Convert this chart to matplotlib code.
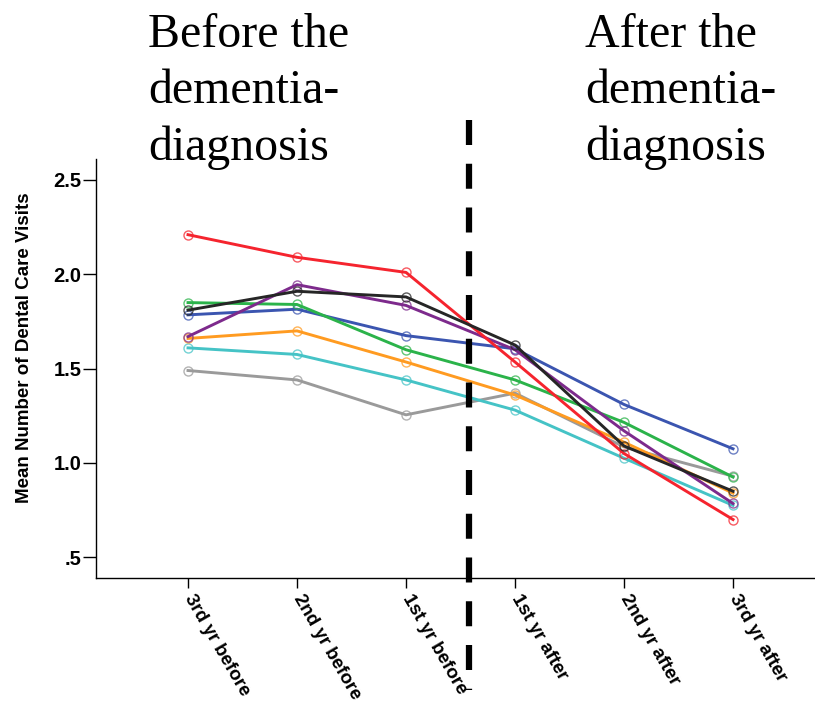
import numpy as np
import matplotlib
matplotlib.use('Agg')
import matplotlib.pyplot as plt
from matplotlib.colors import to_rgba

# periods around the dementia diagnosis
periods = ['3rd yr before', '2nd yr before', '1st yr before',
           '1st yr after', '2nd yr after', '3rd yr after']

# mean number of dental care visits, one list per group
gray = [1.49, 1.44, 1.255, 1.37, 1.085, 0.93]
cyan = [1.61, 1.575, 1.44, 1.28, 1.025, 0.775]
orange = [1.66, 1.70, 1.535, 1.36, 1.11, 0.84]
blue = [1.785, 1.815, 1.675, 1.605, 1.31, 1.075]
green = [1.85, 1.84, 1.60, 1.44, 1.215, 0.925]
purple = [1.67, 1.945, 1.835, 1.60, 1.17, 0.785]
red = [2.21, 2.09, 2.01, 1.535, 1.05, 0.70]
black = [1.81, 1.91, 1.88, 1.625, 1.09, 0.85]

yticks = [0.5, 1.0, 1.5, 2.0, 2.5]
yticklabels = ['.5', '1.0', '1.5', '2.0', '2.5']
diagnosis_x = 2.574  # dashed divider between before / after

series = [
    (gray, '#9a9a9a'),
    (cyan, '#45c3c6'),
    (orange, '#ff9b21'),
    (blue, '#3b55b0'),
    (green, '#2bb34a'),
    (purple, '#7d2a8c'),
    (red, '#f5242e'),
    (black, '#262626'),
]

fig = plt.figure(figsize=(8.15, 7.1), dpi=100)
ax = fig.add_axes([0.1178, 0.1859, 0.8822, 0.5901])

x = np.arange(len(periods))
for vals, col in series:
    edge = to_rgba(col, 0.75)
    ax.plot(x, vals, color=col, lw=2.1, marker='o', ms=6.5,
            mfc='none', mec=edge, mew=1.0, solid_joinstyle='round')

ax.set_xlim(-0.844, 5.752)
ax.set_ylim(0.390, 2.611)

ax.set_yticks(yticks)
ax.set_yticklabels(yticklabels, fontsize=14.5, fontweight='bold',
                   family='Liberation Sans')
ax.set_xticks(x)
ax.set_xticklabels(periods, rotation=-60, ha='left', va='center',
                   rotation_mode='anchor', fontsize=13.5, fontweight='bold',
                   family='Liberation Sans')
ax.tick_params(axis='y', length=9.5, width=1.0, pad=1)
ax.tick_params(axis='x', length=7.5, width=1.0, pad=5)

for side in ['top', 'right']:
    ax.spines[side].set_visible(False)
for side in ['left', 'bottom']:
    ax.spines[side].set_linewidth(1.0)

ax.set_ylabel('Mean Number of Dental Care Visits', fontsize=13.5,
              fontweight='bold', family='Liberation Sans')
ax.yaxis.set_label_coords(-0.087, 0.55)

# dashed divider, runs past the axes on both ends
ax.plot([diagnosis_x, diagnosis_x], [1.093, -0.267], color='black', lw=4.5,
        dashes=(4, 3), transform=ax.get_xaxis_transform(), clip_on=False,
        zorder=5)

serif = 'Liberation Serif'
left_lines = ['Before the', 'dementia-', 'diagnosis']
right_lines = ['After the', 'dementia-', 'diagnosis']
baselines = [47, 103, 160]
for txt, yb in zip(left_lines, baselines):
    fig.text(148 / 815, 1 - yb / 710, txt, fontsize=34.5, family=serif,
             va='baseline', ha='left')
for txt, yb in zip(right_lines, baselines):
    fig.text(585 / 815, 1 - yb / 710, txt, fontsize=34.5, family=serif,
             va='baseline', ha='left')

fig.savefig('out.png', dpi=100)
